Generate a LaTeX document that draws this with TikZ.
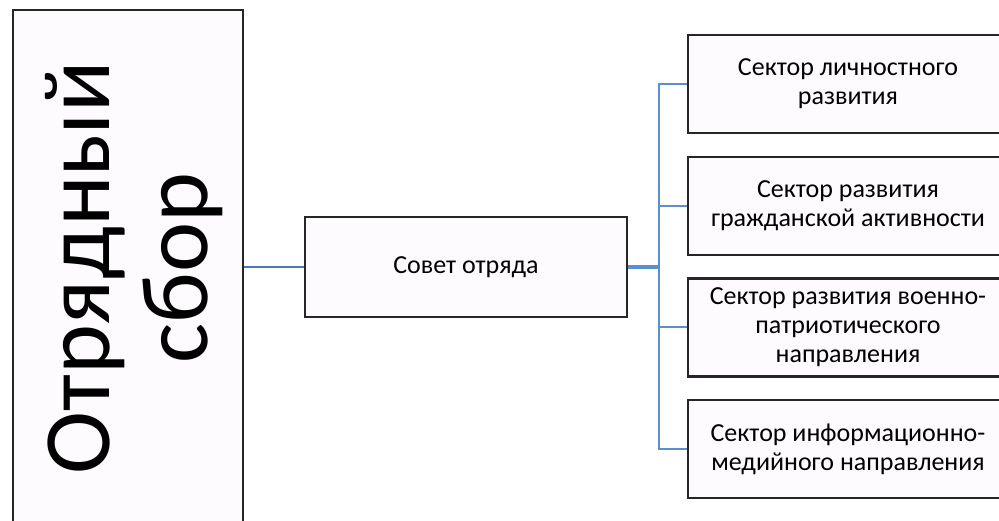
\documentclass[tikz,border=0pt]{standalone}
\usepackage{fontspec}
\setmainfont{Carlito}
\usetikzlibrary{positioning,shadows.blur}
\definecolor{linkblue}{HTML}{5B8FD0}
\definecolor{linkdark}{HTML}{4A7AB0}
\definecolor{boxfill}{HTML}{FDFBFD}
\tikzset{
  boxstyle/.style={draw=black!85, line width=2.4pt, fill=boxfill, inner sep=0pt, align=center},
  sectorbox/.style={boxstyle, minimum width=320pt, minimum height=98pt, font=\fontsize{26}{29}\selectfont},
  treeline/.style={draw=linkblue, line width=2pt},
}
\begin{document}
\begin{tikzpicture}[x=1pt,y=-1pt]
\useasboundingbox (0,0) rectangle (999,521);
\begin{scope}
\clip (0,0) rectangle (999,521);
% left box
\node[boxstyle, minimum width=230pt, minimum height=520pt] (sbor) at (128,270) {};
\node[rotate=90, align=center, font=\fontsize{95}{98}\selectfont] (sbortext) at (134,268) {Отрядный\\сбор};
% council
\node[boxstyle, minimum width=322pt, minimum height=100pt, font=\fontsize{26}{29}\selectfont] (sovet) at (466,267) {Совет отряда};
% sectors
\node[sectorbox] (s1) at (848,84) {Сектор личностного\\развития};
\node[sectorbox] (s2) at (848,206) {Сектор развития\\гражданской активности};
\node[sectorbox] (s3) at (848,327.5) {Сектор развития военно-\\патриотического\\направления};
\node[sectorbox] (s4) at (848,449) {Сектор информационно-\\медийного направления};
\coordinate (jn) at (659,267);
\draw[draw=linkdark, line width=2pt] (sbor.east |- sovet.west) -- (sovet.west);
\draw[treeline, line width=4pt] (sovet.east) -- (jn);
\draw[treeline] (jn) |- (s1.west);
\draw[treeline] (jn) |- (s2.west);
\draw[treeline] (jn) |- (s3.west);
\draw[treeline] (jn) |- (s4.west);
\end{scope}
\end{tikzpicture}
\end{document}
